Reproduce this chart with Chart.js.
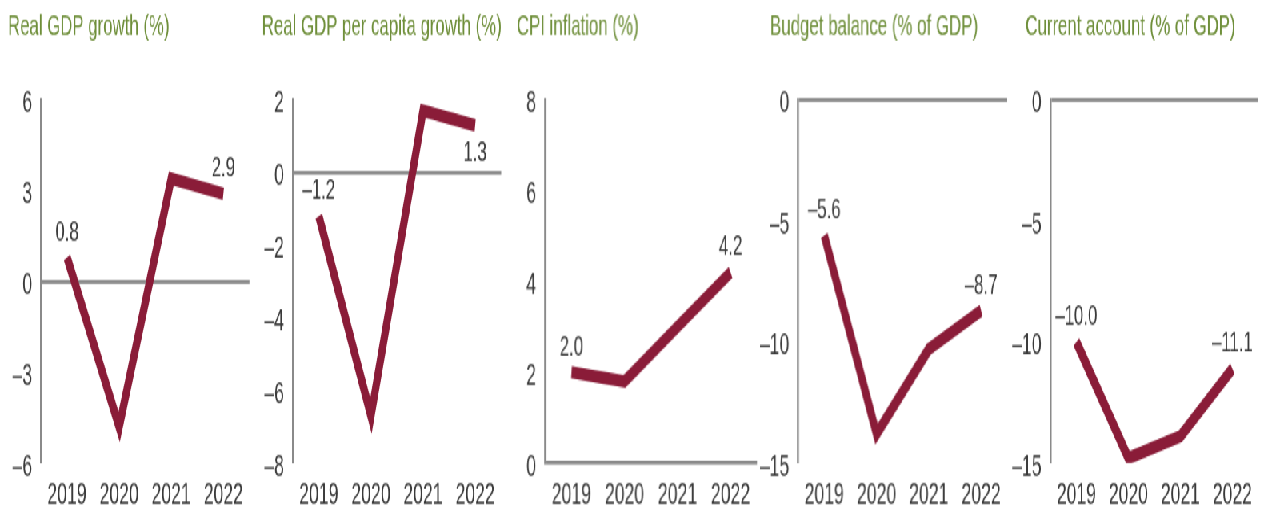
<!DOCTYPE html>
<html>
<head>
<meta charset="utf-8">
<script src="https://cdn.jsdelivr.net/npm/chart.js@4/dist/chart.umd.min.js"></script>
<style>
html, body { margin: 0; padding: 0; background: #fff; overflow: hidden; }
/* drawn wide and short, then squeezed across and stretched tall like the printed strip */
#stage { position: absolute; left: 0; top: 0; width: 1577px; height: 370px; transform: scale(0.8, 1.4); transform-origin: 0 0; }
.panel { position: absolute; top: 0; height: 370px; }
</style>
</head>
<body>
<div id="stage"></div>
<script>
var years = ["2019", "2020", "2021", "2022"];

var gdpGrowth      = [0.8, -4.8, 3.4, 2.9];
var gdpPerCapita   = [-1.2, -6.7, 1.7, 1.3];
var cpiInflation   = [2.0, 1.8, 3.0, 4.2];
var budgetBalance  = [-5.6, -13.8, -10.3, -8.7];
var currentAccount = [-10.0, -14.8, -13.9, -11.1];

var gdpTicks       = [-6, -3, 0, 3, 6];
var perCapitaTicks = [-8, -6, -4, -2, 0, 2];
var cpiTicks       = [0, 2, 4, 6, 8];
var budgetTicks    = [-15, -10, -5, 0];
var accountTicks   = [-15, -10, -5, 0];

var titles = [
    "Real GDP growth (%)",
    "Real GDP per capita growth (%)",
    "CPI inflation (%)",
    "Budget balance (% of GDP)",
    "Current account (% of GDP)"
];
var series = [gdpGrowth, gdpPerCapita, cpiInflation, budgetBalance, currentAccount];
var tickLists = [gdpTicks, perCapitaTicks, cpiTicks, budgetTicks, accountTicks];

// layout of the five little charts, in stage px (before the stage transform)
var boxLeft  = [0, 316.25, 631.25, 950, 1262.5];
var boxRight = [316.25, 631.25, 950, 1262.5, 1577];
var axisX    = [51.25, 366.25, 681.25, 997.5, 1312.5];
var titleX   = [10, 327.5, 646.25, 962.5, 1281.25];
var labelsBelow = [[], [3], [], [], []];

var FONT = "'Liberation Sans', Arial, sans-serif";
var LINE = "#8a1c38";
var GREY = "#8a8a8a";
var TEXT = "#3a3a3a";
var GREEN = "#6f8f3a";

Chart.defaults.font.family = FONT;

function dash(v) {
    return String(v).replace("-", "\u2013");
}

var panelTitle = {
    id: "panelTitle",
    afterDraw: function(chart, args, opts) {
        var ctx = chart.ctx;
        ctx.save();
        ctx.font = "21px " + FONT;
        ctx.fillStyle = GREEN;
        ctx.textAlign = "left";
        ctx.textBaseline = "alphabetic";
        ctx.fillText(opts.text, opts.x, 25);
        ctx.restore();
    }
};

// value labels at the first and last year
var endLabels = {
    id: "endLabels",
    afterDatasetsDraw: function(chart, args, opts) {
        var ctx = chart.ctx;
        var meta = chart.getDatasetMeta(0);
        var vals = chart.data.datasets[0].data;
        ctx.save();
        ctx.font = "21px " + FONT;
        ctx.fillStyle = TEXT;
        ctx.textAlign = "center";
        ctx.textBaseline = "middle";
        [0, vals.length - 1].forEach(function(i) {
            var pt = meta.data[i];
            var dy = opts.below.indexOf(i) >= 0 ? 20 : -18;
            ctx.fillText(dash(vals[i].toFixed(1)), pt.x, pt.y + dy);
        });
        ctx.restore();
    }
};

function createCharts() {
    var stage = document.getElementById("stage");
    for (let i = 0; i < series.length; i++) {
        let box = document.createElement("div");
        box.className = "panel";
        box.style.left = boxLeft[i] + "px";
        box.style.width = (boxRight[i] - boxLeft[i]) + "px";
        let mycanvas = document.createElement("canvas");
        mycanvas.id = "canvas" + i;
        box.appendChild(mycanvas);
        stage.appendChild(box);

        let ticks = tickLists[i];
        new Chart(mycanvas, {
            type: "line",
            data: {
                labels: years,
                datasets: [{
                    data: series[i],
                    borderColor: LINE,
                    borderWidth: 9,
                    borderJoinStyle: "miter",
                    pointRadius: 0,
                    fill: false,
                    tension: 0
                }]
            },
            options: {
                responsive: true,
                maintainAspectRatio: false,
                animation: false,
                layout: { padding: { top: 71.4, left: 0, right: 0, bottom: 0 } },
                plugins: {
                    legend: { display: false },
                    tooltip: { enabled: false },
                    panelTitle: { text: titles[i], x: titleX[i] - boxLeft[i] },
                    endLabels: { below: labelsBelow[i] }
                },
                scales: {
                    x: {
                        offset: true,
                        grid: { display: false, drawTicks: false },
                        border: { display: false },
                        ticks: { color: TEXT, font: { size: 22 }, padding: 10, maxRotation: 0, autoSkip: false },
                        afterFit: function(scale) { scale.height = 39.3; }
                    },
                    y: {
                        min: ticks[0],
                        max: ticks[ticks.length - 1],
                        afterBuildTicks: function(scale) {
                            scale.ticks = ticks.map(function(v) { return { value: v }; });
                        },
                        afterFit: function(scale) { scale.width = axisX[i] - boxLeft[i]; },
                        grid: {
                            drawTicks: false,
                            color: function(c) { return c.tick && c.tick.value === 0 ? GREY : "rgba(0,0,0,0)"; },
                            lineWidth: function(c) { return c.tick && c.tick.value === 0 ? 2.8 : 1; }
                        },
                        border: { display: true, color: GREY, width: 2.5 },
                        ticks: {
                            color: TEXT,
                            font: { size: 22 },
                            padding: 11,
                            autoSkip: false,
                            labelOffset: 3,
                            callback: function(v) { return dash(v); }
                        }
                    }
                }
            },
            plugins: [panelTitle, endLabels]
        });
    }
}

createCharts();
</script>
</body>
</html>
